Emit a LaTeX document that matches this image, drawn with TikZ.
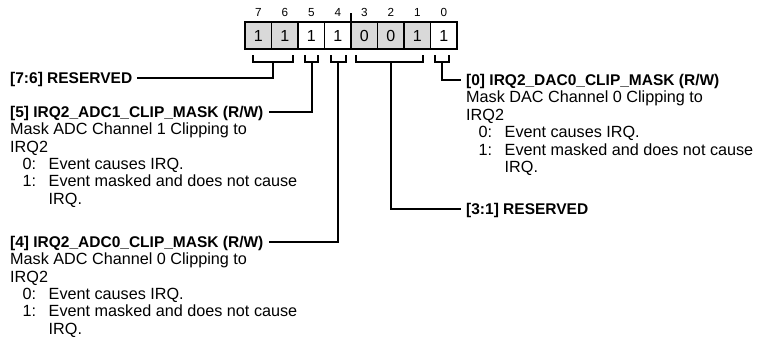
\documentclass[tikz,border=0pt]{standalone}
\usepackage{fontspec}
\setmainfont{Liberation Sans}
\definecolor{cellgray}{RGB}{217,217,217}
\newcommand\dblock[4]{%
  \node[desc] (#1a) at (#2, #3+22.95) {#4};
  \node[desc] (#1b) at (#2, #3+40.35) {IRQ2};
  \node[desc] (#1c) at (#2+12.5, #3+57.75) {0:};
  \node[desc] (#1d) at (#2+38.5, #3+57.75) {Event causes IRQ.};
  \node[desc] (#1e) at (#2+12.5, #3+75.15) {1:};
  \node[desc] (#1f) at (#2+38.5, #3+75.15) {Event masked and does not cause};
  \node[desc] (#1g) at (#2+38.5, #3+92.55) {IRQ.};
}
\begin{document}
\begin{tikzpicture}[x=1pt,y=-1pt,
  cell/.style={draw,line width=1.8pt,minimum width=26.5pt,minimum height=27.6pt,inner sep=0pt,font=\fontsize{16}{16}\selectfont},
  grayc/.style={cell,fill=cellgray},
  whitec/.style={cell,fill=white},
  bitnum/.style={inner sep=0pt,anchor=base,font=\fontsize{11.7}{12}\selectfont},
  head/.style={anchor=west,inner xsep=5pt,inner ysep=0pt,text height=11.1pt,text depth=0pt,font=\bfseries\fontsize{15.5}{17}\selectfont},
  desc/.style={anchor=base west,inner sep=0pt,font=\fontsize{16.2}{17.4}\selectfont},
  wire/.style={line width=2pt},
  tick/.style={line width=1.2pt},
]
\useasboundingbox (0,0) rectangle (757,351);

% register cells
\node[grayc]  (c7) at (258.25,35.5) {1};
\node[grayc]  (c6) at (284.75,35.5) {1};
\node[whitec] (c5) at (311.25,35.5) {1};
\node[whitec] (c4) at (337.75,35.5) {1};
\node[grayc]  (c3) at (364.25,35.5) {0};
\node[grayc]  (c2) at (390.75,35.5) {0};
\node[grayc]  (c1) at (417.25,35.5) {1};
\node[whitec] (c0) at (443.75,35.5) {1};

% bit numbers
\node[bitnum] (n7) at (258.25,16.7) {7};
\node[bitnum] (n6) at (284.75,16.7) {6};
\node[bitnum] (n5) at (311.25,16.7) {5};
\node[bitnum] (n4) at (337.75,16.7) {4};
\node[bitnum] (n3) at (364.25,16.7) {3};
\node[bitnum] (n2) at (390.75,16.7) {2};
\node[bitnum] (n1) at (417.25,16.7) {1};
\node[bitnum] (n0) at (443.75,16.7) {0};

% tick between bit 4 and bit 3
\coordinate (tk) at (351,13);
\coordinate (tkb) at (351,21.7);
\draw[tick] (tk) -- (tkb);

% brackets
\draw[wire] (252.5,55) -- (252.5,61.7) -- (293.3,61.7) -- (293.3,55);
\draw[wire] (305,55) -- (305,61.7) -- (318.3,61.7) -- (318.3,55);
\draw[wire] (330.7,55) -- (330.7,61.7) -- (346,61.7) -- (346,55);
\draw[wire] (356,55) -- (356,61.7) -- (422.7,61.7) -- (422.7,55);
\draw[wire] (435,55) -- (435,61.7) -- (449.3,61.7) -- (449.3,55);
\coordinate (s76) at (273.3,61.7);
\coordinate (s5)  at (311.7,61.7);
\coordinate (s4)  at (337.7,61.7);
\coordinate (s31) at (390.5,61.7);
\coordinate (s0)  at (442,61.7);

% headings
\node[head] (h76) at (5,78.3)   {[7:6] RESERVED};
\node[head] (h5)  at (5,111.7)  {[5] IRQ2\_ADC1\_CLIP\_MASK (R/W)};
\node[head] (h4)  at (5,241.7)  {[4] IRQ2\_ADC0\_CLIP\_MASK (R/W)};
\node[head] (h0)  at (461,80)   {[0] IRQ2\_DAC0\_CLIP\_MASK (R/W)};
\node[head] (h31) at (461,209.3){[3:1] RESERVED};

% connectors
\draw[wire] (s76) |- (h76.east);
\draw[wire] (s5)  |- (h5.east);
\draw[wire] (s4)  |- (h4.east);
\draw[wire] (s0)  |- (h0.west);
\draw[wire] (s31) |- (h31.west);

% descriptions
\dblock{d5}{10}{111.7}{Mask ADC Channel 1 Clipping to}
\dblock{d4}{10}{241.7}{Mask ADC Channel 0 Clipping to}
\dblock{d0}{466}{80}{Mask DAC Channel 0 Clipping to}
\end{tikzpicture}
\end{document}
